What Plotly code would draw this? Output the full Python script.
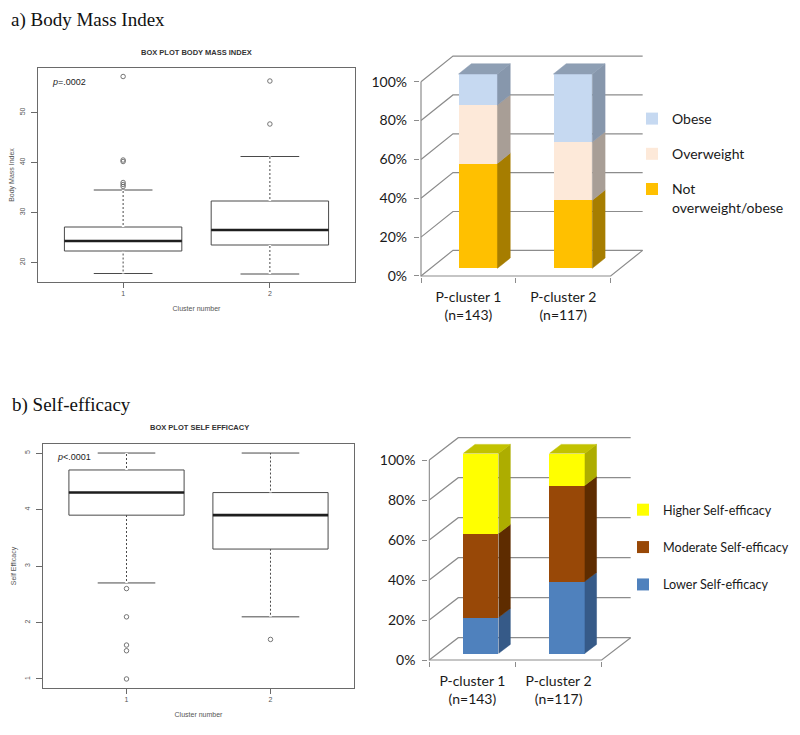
import plotly.graph_objects as go

W, H = 800, 735
OFF = 8  # page body margin offset of the rendered figure


def fx(p):
    return (p - OFF) / W


def fy(p):
    return 1 - (p - OFF) / H


# ---------------- data ----------------
box_positions = [1, 2]
box_ticktext = ["1", "2"]

bmi_q1 = [22.3, 23.5]
bmi_median = [24.3, 26.5]
bmi_q3 = [27.1, 32.3]
bmi_lowerfence = [17.8, 17.7]
bmi_upperfence = [34.5, 41.2]
bmi_outliers_c1 = [57.2, 40.5, 40.2, 36.0, 35.6, 35.2]
bmi_outliers_c2 = [56.3, 47.7]
bmi_yticks = [20, 30, 40, 50]

se_q1 = [3.9, 3.3]
se_median = [4.3, 3.9]
se_q3 = [4.7, 4.3]
se_lowerfence = [2.7, 2.1]
se_upperfence = [5.0, 5.0]
se_outliers_c1 = [2.6, 2.1, 1.6, 1.5, 1.0]
se_outliers_c2 = [1.7]
se_yticks = [1, 2, 3, 4, 5]

pcluster_labels = ["P-cluster 1<br>(n=143)", "P-cluster 2<br>(n=117)"]
pct_ticks = [0, 20, 40, 60, 80, 100]
pct_ticktext = ["0%", "20%", "40%", "60%", "80%", "100%"]

bmi_not_over = [54, 35]
bmi_overweight = [30, 30]
bmi_obese = [16, 35]

se_lower_pct = [18, 36]
se_moderate_pct = [42, 48]
se_higher_pct = [40, 16]

# ---------------- figure ----------------
fig = go.Figure()

BOX_LINE = "#4a4a4a"
AX_GREY = "#6a6a6a"
GRID = "#8c8c8c"
RFONT = "Liberation Sans"
XLFONT = "Lato"


def box_panel(xa, ya, q1, med, q3, lo, hi, out1, out2):
    fig.add_trace(go.Box(
        x=box_positions, q1=q1, median=med, q3=q3, lowerfence=lo, upperfence=hi,
        width=0.8, whiskerwidth=0.5, fillcolor="white",
        line=dict(color=BOX_LINE, width=1), boxpoints=False,
        xaxis=xa, yaxis=ya, showlegend=False, hoverinfo="skip"))
    # dashed whisker stems (white gaps over solid stem)
    xs, ys = [], []
    for i, c in enumerate(box_positions):
        xs += [c, c, None, c, c, None]
        ys += [lo[i], q1[i], None, q3[i], hi[i], None]
    fig.add_trace(go.Scatter(x=xs, y=ys, mode="lines",
                             line=dict(color="white", width=2.5, dash="2px,2px"),
                             xaxis=xa, yaxis=ya, showlegend=False, hoverinfo="skip"))
    # thick median lines
    xs, ys = [], []
    for i, c in enumerate(box_positions):
        xs += [c - 0.4, c + 0.4, None]
        ys += [med[i], med[i], None]
    fig.add_trace(go.Scatter(x=xs, y=ys, mode="lines",
                             line=dict(color="#1e1e1e", width=2.6),
                             xaxis=xa, yaxis=ya, showlegend=False, hoverinfo="skip"))
    # outliers
    fig.add_trace(go.Scatter(
        x=[box_positions[0]] * len(out1) + [box_positions[1]] * len(out2),
        y=list(out1) + list(out2), mode="markers",
        marker=dict(symbol="circle-open", size=4.5, color="#666666", line=dict(width=0.9)),
        xaxis=xa, yaxis=ya, showlegend=False, hoverinfo="skip"))


box_panel("x", "y", bmi_q1, bmi_median, bmi_q3, bmi_lowerfence, bmi_upperfence,
          bmi_outliers_c1, bmi_outliers_c2)
box_panel("x3", "y3", se_q1, se_median, se_q3, se_lowerfence, se_upperfence,
          se_outliers_c1, se_outliers_c2)

# ---------------- pseudo-3D stacked bars ----------------
D0, D1 = 0.30, 0.70
BW = 0.41
CENTERS = [0.5, 1.5]
shapes = []


def bar_panel(xa, ya, series, DX, DY, legend, top_color):
    cum = [0.0, 0.0]
    n = len(series)
    for k, (name, vals, cfront, cside) in enumerate(series):
        base = [cum[i] + D0 * DY for i in range(2)]
        fig.add_trace(go.Bar(
            x=[c + D0 * DX for c in CENTERS], y=vals, base=base, width=BW,
            marker=dict(color=cfront, line=dict(width=0)), name=name,
            legend=legend, legendgroup=name, legendrank=n - k,
            xaxis=xa, yaxis=ya, hoverinfo="skip"))
        xs, ys = [], []
        for i, c in enumerate(CENTERS):
            xr0 = c + BW / 2 + D0 * DX
            xr1 = c + BW / 2 + D1 * DX
            yb, yt = cum[i], cum[i] + vals[i]
            xs += [xr0, xr1, xr1, xr0, xr0, None]
            ys += [yb + D0 * DY, yb + D1 * DY, yt + D1 * DY, yt + D0 * DY, yb + D0 * DY, None]
        fig.add_trace(go.Scatter(x=xs, y=ys, mode="lines", fill="toself", fillcolor=cside,
                                 line=dict(color=cside, width=0.5), legendgroup=name,
                                 legend=legend, showlegend=False, xaxis=xa, yaxis=ya,
                                 hoverinfo="skip"))
        cum = [cum[i] + vals[i] for i in range(2)]
    # top faces
    xs, ys = [], []
    for i, c in enumerate(CENTERS):
        xl0 = c - BW / 2 + D0 * DX
        xr0 = c + BW / 2 + D0 * DX
        xl1 = c - BW / 2 + D1 * DX
        xr1 = c + BW / 2 + D1 * DX
        t = cum[i]
        xs += [xl0, xr0, xr1, xl1, xl0, None]
        ys += [t + D0 * DY, t + D0 * DY, t + D1 * DY, t + D1 * DY, t + D0 * DY, None]
    fig.add_trace(go.Scatter(x=xs, y=ys, mode="lines", fill="toself", fillcolor=top_color,
                             line=dict(color=top_color, width=0.5), showlegend=False,
                             xaxis=xa, yaxis=ya, hoverinfo="skip"))
    # walls / gridlines
    for p in pct_ticks:
        shapes.append(dict(type="path", xref=xa, yref=ya, layer="below",
                           path=f"M 0,{p} L {DX},{p + DY} L {2 + DX},{p + DY}",
                           line=dict(color=GRID, width=1.2)))
    shapes.append(dict(type="path", xref=xa, yref=ya, layer="below",
                       path=f"M 0,100 L 0,0 L 2,0 L {2 + DX},{DY}",
                       line=dict(color=GRID, width=1.2)))


DX1, DY1 = 0.337, 13.2
DX2, DY2 = 0.336, 11.15

bar_panel("x2", "y2", [
    ("Not<br>overweight/obese", bmi_not_over, "#FFC000", "#A67D00"),
    ("Overweight", bmi_overweight, "#FDE9D9", "#A89E96"),
    ("Obese", bmi_obese, "#C6D9F1", "#8797AC"),
], DX1, DY1, "legend", "#8E9FB4")

bar_panel("x4", "y4", [
    ("Lower Self-efficacy", se_lower_pct, "#4F81BD", "#365A88"),
    ("Moderate Self-efficacy", se_moderate_pct, "#984807", "#5E2C00"),
    ("Higher Self-efficacy", se_higher_pct, "#FFFF00", "#ADAD00"),
], DX2, DY2, "legend2", "#C2C200")

# ---------------- axes ----------------
tickfont_r = dict(family=RFONT, size=7, color="#555555")


def box_axes(xkey, ykey, xdom_px, ydom_px, yrange, yticks, ytitle):
    fig.update_layout(**{
        xkey: dict(domain=[fx(xdom_px[0]), fx(xdom_px[1])], range=[0.42, 2.58],
                   tickmode="array", tickvals=box_positions, ticktext=box_ticktext,
                   ticks="outside", ticklen=5, tickcolor=AX_GREY, tickfont=tickfont_r,
                   showline=True, mirror=True, linecolor=AX_GREY, linewidth=1,
                   showgrid=False, zeroline=False, automargin=False,
                   title=dict(text="Cluster number", font=dict(family=RFONT, size=7, color="#555555"),
                              standoff=9),
                   anchor=ykey.replace("axis", "")),
        ykey: dict(domain=[fy(ydom_px[1]), fy(ydom_px[0])], range=yrange,
                   tickmode="array", tickvals=yticks, tickangle=-90,
                   ticks="outside", ticklen=6, tickcolor=AX_GREY, tickfont=tickfont_r,
                   ticklabelstandoff=3,
                   showline=True, mirror=True, linecolor=AX_GREY, linewidth=1,
                   showgrid=False, zeroline=False, automargin=False,
                   title=dict(text=ytitle, font=dict(family=RFONT, size=7, color="#555555"),
                              standoff=6),
                   anchor=xkey.replace("axis", "")),
    })


box_axes("xaxis", "yaxis", (38, 355), (68, 282), [16.1, 58.9], bmi_yticks, "Body Mass Index")
box_axes("xaxis3", "yaxis3", (43, 354), (444, 688), [0.84, 5.16], se_yticks, "Self Efficacy")

PADX, PADY = 0.012, 0.6


def bar_axes(xkey, ykey, x0, pxu, y0, pyu, DX, DY):
    xr = [-PADX, 2 + DX + PADX]
    yr = [-PADY, 100 + DY + PADY]
    fig.update_layout(**{
        xkey: dict(domain=[fx(x0 + xr[0] * pxu), fx(x0 + xr[1] * pxu)], range=xr,
                   tickmode="array", tickvals=CENTERS, ticktext=pcluster_labels,
                   ticks="", ticklabelstandoff=10,
                   tickfont=dict(family=XLFONT, size=14, color="#1a1a1a"),
                   minor=dict(tickmode="array", tickvals=[0, 1, 2], ticks="outside",
                              ticklen=5, tickcolor=GRID, tickwidth=1.2, showgrid=False),
                   showline=False, showgrid=False, zeroline=False, automargin=False,
                   anchor=ykey.replace("axis", "")),
        ykey: dict(domain=[fy(y0 - yr[0] * pyu), fy(y0 - yr[1] * pyu)], range=yr,
                   tickmode="array", tickvals=pct_ticks, ticktext=pct_ticktext,
                   ticks="outside", ticklen=5, tickcolor=GRID, tickwidth=1.2,
                   ticklabelstandoff=4,
                   tickfont=dict(family=XLFONT, size=14, color="#1a1a1a"),
                   showline=False, showgrid=False, zeroline=False, automargin=False,
                   anchor=xkey.replace("axis", "")),
    })


bar_axes("xaxis2", "yaxis2", 421, 94.85, 276, 1.943, DX1, DY1)
bar_axes("xaxis4", "yaxis4", 429.3, 86.2, 660, 2.0, DX2, DY2)

# ---------------- annotations ----------------
annotations = [
    dict(text="a) Body Mass Index", x=fx(10), y=fy(8), xanchor="left", yanchor="top",
         borderpad=0, font=dict(family="Liberation Serif", size=19, color="#111111")),
    dict(text="b) Self-efficacy", x=fx(10), y=fy(405), xanchor="left", yanchor="middle",
         font=dict(family="Liberation Serif", size=19, color="#111111")),
    dict(text="<b>BOX PLOT BODY MASS INDEX</b>", x=fx(196.5), y=fy(53), xanchor="center",
         yanchor="middle", font=dict(family=RFONT, size=7.5, color="#333333")),
    dict(text="<b>BOX PLOT SELF EFFICACY</b>", x=fx(199), y=fy(427), xanchor="center",
         yanchor="middle", font=dict(family=RFONT, size=7.5, color="#333333")),
    dict(text="<i>p</i>=.0002", x=fx(50), y=fy(82), xanchor="left", yanchor="middle",
         font=dict(family=RFONT, size=9, color="#222222")),
    dict(text="<i>p</i><.0001", x=fx(55), y=fy(457), xanchor="left", yanchor="middle",
         font=dict(family=RFONT, size=9, color="#222222")),
]
for a in annotations:
    a.update(xref="paper", yref="paper", showarrow=False)

legend_common = dict(xanchor="left", yanchor="top", traceorder="grouped",
                     valign="top", bgcolor="rgba(0,0,0,0)", borderwidth=0)

fig.update_layout(
    width=W, height=H, autosize=False,
    margin=dict(l=0, r=0, t=0, b=0, autoexpand=False),
    paper_bgcolor="white", plot_bgcolor="rgba(0,0,0,0)",
    barmode="overlay", bargap=0,
    shapes=shapes, annotations=annotations,
    legend=dict(x=fx(632), y=fy(103), tracegroupgap=14,
                font=dict(family=XLFONT, size=14, color="#1a1a1a"), **legend_common),
    legend2=dict(x=fx(623), y=fy(495), tracegroupgap=18,
                 font=dict(family=XLFONT, size=12.6, color="#1a1a1a"), **legend_common),
)

fig.write_html("out.html")
